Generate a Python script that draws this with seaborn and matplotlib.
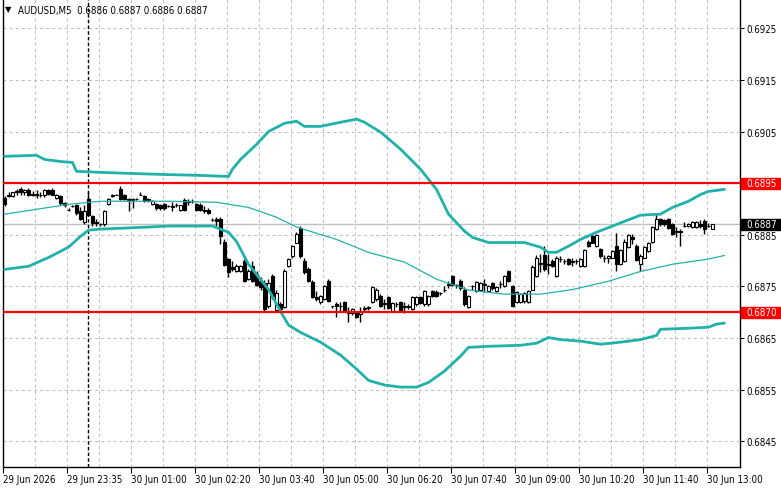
import matplotlib
matplotlib.use("Agg")
import matplotlib.pyplot as plt
import matplotlib.transforms as mtrans
from matplotlib.patches import Rectangle
import numpy as np
import pandas as pd
import seaborn as sns

# ---------------- data (prices in points, 1 point = 0.00001) ----------------
title_symbol = "AUDUSD,M5"
title_ohlc = "0.6886 0.6887 0.6886 0.6887"

open_pts = [68921, 68925, 68925, 68932, 68938, 68932, 68936, 68928, 68930, 68927,
            68927, 68936, 68936, 68921, 68925, 68911, 68899, 68905, 68907, 68896,
            68874, 68919, 68886, 68872, 68870, 68870, 68909, 68927, 68928, 68938,
            68927, 68919, 68917, 68919, 68928, 68925, 68919, 68909, 68909, 68907,
            68909, 68905, 68903, 68907, 68899, 68917, 68913, 68915, 68909, 68907,
            68899, 68899, 68878, 68880, 68880, 68837, 68803, 68787, 68779, 68779,
            68799, 68764, 68789, 68774, 68760, 68756, 68712, 68770, 68704, 68715,
            68710, 68789, 68808, 68835, 68863, 68799, 68783, 68758, 68729, 68719,
            68725, 68760, 68712, 68715, 68712, 68719, 68702, 68698, 68700, 68696,
            68706, 68708, 68719, 68725, 68731, 68715, 68729, 68702, 68715, 68719,
            68710, 68710, 68706, 68715, 68729, 68715, 68715, 68741, 68739, 68737,
            68744, 68752, 68770, 68752, 68760, 68744, 68710, 68750, 68741, 68744,
            68754, 68741, 68756, 68741, 68754, 68750, 68779, 68750, 68719, 68719,
            68721, 68719, 68744, 68770, 68793, 68810, 68793, 68799, 68770, 68803,
            68799, 68803, 68797, 68799, 68789, 68789, 68837, 68847, 68828, 68822,
            68806, 68806, 68806, 68828, 68793, 68799, 68826, 68845, 68828, 68793,
            68806, 68818, 68837, 68861, 68880, 68878, 68880, 68870, 68857, 68857,
            68868, 68868, 68865, 68866, 68870, 68876, 68868, 68861]
high_pts = [68925, 68932, 68932, 68938, 68942, 68938, 68940, 68934, 68936, 68932,
            68938, 68938, 68940, 68930, 68927, 68913, 68901, 68907, 68909, 68903,
            68907, 68932, 68888, 68880, 68872, 68899, 68921, 68930, 68930, 68944,
            68930, 68921, 68921, 68921, 68932, 68927, 68921, 68917, 68911, 68909,
            68911, 68907, 68913, 68911, 68907, 68921, 68919, 68919, 68911, 68911,
            68905, 68901, 68882, 68884, 68884, 68841, 68806, 68799, 68793, 68791,
            68803, 68783, 68799, 68779, 68768, 68762, 68764, 68774, 68744, 68719,
            68783, 68806, 68830, 68855, 68867, 68806, 68787, 68762, 68741, 68733,
            68752, 68764, 68713, 68719, 68719, 68721, 68710, 68708, 68702, 68710,
            68713, 68712, 68750, 68746, 68735, 68725, 68731, 68719, 68719, 68721,
            68719, 68715, 68731, 68731, 68731, 68743, 68733, 68744, 68743, 68739,
            68750, 68760, 68772, 68754, 68764, 68748, 68733, 68752, 68760, 68758,
            68764, 68752, 68758, 68750, 68760, 68772, 68781, 68752, 68741, 68737,
            68739, 68743, 68791, 68810, 68812, 68828, 68812, 68803, 68808, 68808,
            68803, 68805, 68806, 68803, 68805, 68822, 68839, 68851, 68851, 68824,
            68810, 68810, 68820, 68853, 68822, 68841, 68851, 68851, 68832, 68812,
            68828, 68837, 68867, 68890, 68882, 68880, 68882, 68872, 68865, 68861,
            68874, 68872, 68876, 68877, 68878, 68880, 68872, 68870]
low_pts = [68905, 68923, 68923, 68928, 68928, 68928, 68925, 68925, 68921, 68923,
           68923, 68928, 68928, 68919, 68907, 68903, 68897, 68903, 68888, 68878,
           68870, 68886, 68868, 68867, 68868, 68868, 68907, 68923, 68927, 68917,
           68917, 68897, 68901, 68917, 68927, 68913, 68913, 68907, 68899, 68899,
           68899, 68903, 68896, 68903, 68897, 68897, 68907, 68911, 68897, 68897,
           68892, 68890, 68876, 68868, 68832, 68789, 68768, 68779, 68777, 68777,
           68758, 68762, 68758, 68750, 68744, 68702, 68708, 68725, 68700, 68702,
           68708, 68787, 68806, 68834, 68806, 68775, 68758, 68727, 68721, 68715,
           68723, 68719, 68708, 68690, 68702, 68702, 68681, 68694, 68688, 68681,
           68700, 68704, 68717, 68721, 68710, 68706, 68706, 68700, 68710, 68702,
           68698, 68706, 68704, 68713, 68715, 68713, 68713, 68729, 68729, 68733,
           68739, 68746, 68750, 68746, 68744, 68712, 68708, 68744, 68739, 68743,
           68739, 68739, 68744, 68739, 68746, 68748, 68758, 68710, 68717, 68717,
           68717, 68717, 68743, 68768, 68777, 68779, 68774, 68787, 68768, 68797,
           68793, 68791, 68789, 68793, 68787, 68787, 68826, 68834, 68826, 68806,
           68797, 68795, 68805, 68779, 68791, 68797, 68824, 68832, 68799, 68779,
           68805, 68816, 68835, 68859, 68868, 68868, 68861, 68849, 68845, 68828,
           68865, 68865, 68863, 68863, 68863, 68851, 68865, 68861]
close_pts = [68909, 68927, 68932, 68934, 68932, 68936, 68928, 68930, 68927, 68928,
             68936, 68930, 68928, 68928, 68911, 68907, 68899, 68905, 68892, 68880,
             68896, 68888, 68872, 68874, 68870, 68897, 68919, 68925, 68928, 68919,
             68919, 68917, 68919, 68919, 68928, 68915, 68917, 68915, 68901, 68901,
             68901, 68905, 68905, 68907, 68907, 68899, 68915, 68915, 68899, 68899,
             68897, 68892, 68878, 68876, 68847, 68791, 68777, 68783, 68789, 68789,
             68760, 68779, 68760, 68752, 68748, 68706, 68756, 68731, 68737, 68706,
             68779, 68803, 68828, 68851, 68808, 68777, 68760, 68729, 68725, 68731,
             68750, 68721, 68712, 68712, 68713, 68704, 68698, 68706, 68690, 68700,
             68708, 68710, 68748, 68743, 68712, 68717, 68708, 68717, 68715, 68704,
             68712, 68712, 68729, 68729, 68717, 68741, 68731, 68731, 68731, 68737,
             68744, 68754, 68752, 68752, 68746, 68715, 68731, 68750, 68758, 68756,
             68752, 68750, 68746, 68748, 68754, 68770, 68760, 68712, 68739, 68735,
             68737, 68741, 68787, 68806, 68795, 68783, 68791, 68789, 68806, 68803,
             68799, 68793, 68799, 68799, 68803, 68820, 68828, 68835, 68849, 68808,
             68806, 68808, 68818, 68793, 68820, 68837, 68849, 68841, 68801, 68808,
             68826, 68835, 68865, 68880, 68870, 68870, 68863, 68851, 68855, 68855,
             68868, 68870, 68874, 68875, 68868, 68861, 68868, 68870]

# Bollinger-type envelope (thick) and moving average (thin), read at bar indices
upper_bar = [0, 8, 10, 14, 17, 18, 24, 31, 39, 49, 56, 57, 59, 63, 66, 70, 73, 75,
             79, 84, 88, 90, 94, 99, 104, 108, 111, 115, 117, 121, 130, 134, 136,
             138, 141, 144, 148, 153, 159, 164, 167, 171, 174, 176, 180]
upper_pts = [69002, 69004, 68996, 68992, 68990, 68973, 68971, 68969, 68967, 68965,
             68963, 68977, 68996, 69025, 69050, 69066, 69070, 69060, 69060, 69068,
             69074, 69068, 69049, 69016, 68977, 68938, 68890, 68857, 68845, 68835,
             68835, 68826, 68816, 68816, 68828, 68841, 68855, 68870, 68888, 68890,
             68903, 68915, 68928, 68934, 68938]
lower_bar = [0, 6, 11, 16, 19, 21, 24, 36, 41, 52, 54, 56, 58, 61, 66, 69, 71, 74,
             79, 84, 88, 91, 95, 99, 103, 106, 110, 114, 116, 121, 129, 133, 136,
             139, 144, 149, 154, 159, 163, 164, 171, 176, 178, 180]
lower_pts = [68783, 68789, 68806, 68826, 68847, 68859, 68861, 68865, 68867, 68867,
             68861, 68855, 68837, 68793, 68744, 68702, 68675, 68661, 68642, 68617,
             68590, 68568, 68559, 68555, 68555, 68564, 68586, 68615, 68632, 68634,
             68636, 68640, 68651, 68647, 68644, 68638, 68642, 68647, 68655, 68667,
             68669, 68671, 68677, 68679]
ma_bar = [0, 6, 16, 24, 41, 53, 61, 68, 73, 83, 91, 100, 108, 116, 125, 134, 142,
          151, 159, 167, 176, 180]
ma_pts = [68890, 68897, 68909, 68915, 68915, 68913, 68903, 68884, 68865, 68841,
          68816, 68797, 68764, 68743, 68735, 68735, 68744, 68760, 68779, 68793,
          68803, 68810]

tick_bars = [0, 16, 32, 48, 64, 80, 96, 112, 128, 144, 160, 176]
tick_labels = ["29 Jun 2026", "29 Jun 23:35", "30 Jun 01:00", "30 Jun 02:20",
               "30 Jun 03:40", "30 Jun 05:00", "30 Jun 06:20", "30 Jun 07:40",
               "30 Jun 09:00", "30 Jun 10:20", "30 Jun 11:40", "30 Jun 13:00"]
separator_bar = 21
price_ticks = [0.6845, 0.6855, 0.6865, 0.6875, 0.6885, 0.6895, 0.6905, 0.6915, 0.6925]
level_lines = [0.6895, 0.6870]
bid_price = 0.6887

# ---------------- styling ----------------
sns.set_theme(style="white")
plt.rcParams["font.family"] = ["DejaVu Sans"]
plt.rcParams["font.stretch"] = "condensed"
plt.rcParams["lines.scale_dashes"] = False

TEAL = "#20B2AA"
RED = "#FF0000"
GRID = "#C0C0C0"
FS = 7.0

W, H = 781, 489
fig = plt.figure(figsize=(W / 100, H / 100), dpi=100)
fig.patch.set_facecolor("white")
ax_left, ax_right, ax_top, ax_bottom = 3, 740, 0, 467.5
ax = fig.add_axes([ax_left / W, 1 - ax_bottom / H, (ax_right - ax_left) / W,
                   (ax_bottom - ax_top) / H])
ax.set_facecolor("white")

scale = 1e-5
O = np.array(open_pts) * scale
Hh = np.array(high_pts) * scale
L = np.array(low_pts) * scale
C = np.array(close_pts) * scale
Hh = np.maximum(Hh, np.maximum(O, C))
L = np.minimum(L, np.minimum(O, C))
x = np.arange(len(O))

# axis ranges (layout)
px_per_price = (442.3 - 29.3) / 0.008
ax.set_ylim(0.6845 - (ax_bottom - 442.3) / px_per_price,
            0.6925 + (29.3 - ax_top) / px_per_price)
ax.set_xlim(-0.375, -0.375 + (ax_right - ax_left) / 4.0)

# grid
off = -0.375
ax.set_xticks([b + off for b in tick_bars])
ax.set_xticklabels(tick_labels)
ax.set_xticks([b + off for b in range(8, 184, 16)], minor=True)
ax.set_yticks(price_ticks)
ax.set_yticklabels([f"{p:.4f}" for p in price_ticks])
ax.grid(True, which="both", color=GRID, linestyle=(0, (2.2, 2.2)), linewidth=0.75, zorder=0)
ax.set_axisbelow(True)

ax.yaxis.tick_right()
ax.tick_params(axis="y", which="major", direction="out", length=3, width=0.75,
               pad=1.5, labelsize=FS, colors="black", right=True, left=False)
ax.tick_params(axis="x", which="major", direction="out", length=4, width=0.75,
               pad=1.2, labelsize=FS, colors="black", bottom=True)
ax.tick_params(axis="x", which="minor", length=0)
for lbl in ax.get_xticklabels():
    lbl.set_ha("left")
for s in ["left", "right", "bottom"]:
    ax.spines[s].set_color("black")
    ax.spines[s].set_linewidth(1.0)
ax.spines["top"].set_visible(False)

# bid line and period separator
ax.axhline(bid_price, color=GRID, linewidth=1.0, zorder=1)
ax.axvline(separator_bar - 0.1, color="black", linewidth=1.0,
           linestyle=(0, (2.5, 1.6)), zorder=1.5)

# candles
ax.vlines(x, L, Hh, color="black", linewidth=1.0, zorder=3)
bull = C >= O
body_bottom = np.minimum(O, C)
body_h = np.abs(C - O)
ax.bar(x[bull], body_h[bull], bottom=body_bottom[bull], width=0.62,
       facecolor="white", edgecolor="black", linewidth=0.8, zorder=4)
ax.bar(x[~bull], body_h[~bull], bottom=body_bottom[~bull], width=0.62,
       facecolor="black", edgecolor="black", linewidth=0.8, zorder=4)

# indicator lines
df_up = pd.DataFrame({"bar": upper_bar, "price": np.array(upper_pts) * scale})
df_lo = pd.DataFrame({"bar": lower_bar, "price": np.array(lower_pts) * scale})
df_ma = pd.DataFrame({"bar": ma_bar, "price": np.array(ma_pts) * scale})
sns.lineplot(data=df_up, x="bar", y="price", ax=ax, color=TEAL, linewidth=2.0,
             legend=False, zorder=5)
sns.lineplot(data=df_lo, x="bar", y="price", ax=ax, color=TEAL, linewidth=2.0,
             legend=False, zorder=5)
sns.lineplot(data=df_ma, x="bar", y="price", ax=ax, color=TEAL, linewidth=0.9,
             legend=False, zorder=5)
ax.set_xlabel("")
ax.set_ylabel("")

# horizontal level lines
for lv in level_lines:
    ax.axhline(lv, color=RED, linewidth=1.6, zorder=6)

# right-side price boxes
blend = mtrans.blended_transform_factory(fig.transFigure, ax.transData)
box_h = 11 / px_per_price
for price, col in [(level_lines[0], RED), (level_lines[1], RED), (bid_price, "black")]:
    ax.add_patch(Rectangle((741 / W, price - box_h / 2), 40 / W, box_h,
                           transform=blend, facecolor=col, edgecolor=col,
                           clip_on=False, zorder=10))
    ax.text(746 / W, price, f"{price:.4f}", transform=blend, color="white",
            fontsize=FS, va="center", ha="left", zorder=11, clip_on=False)

# title
fig.text(5 / W, 1 - 10 / H, "\u25BC", fontsize=6, color="black", va="center",
         ha="left", family=["DejaVu Sans"], stretch="normal")
fig.text(18 / W, 1 - 11 / H, f"{title_symbol}  {title_ohlc}", fontsize=FS,
         color="black", va="center", ha="left")

fig.savefig("out.png", dpi=100, facecolor="white")
